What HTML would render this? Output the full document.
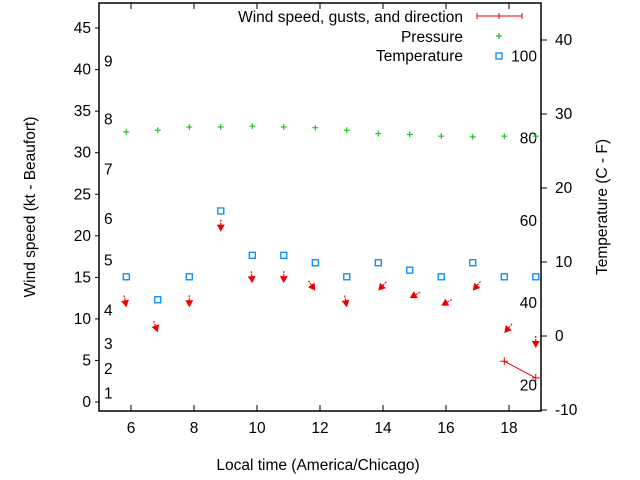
<!DOCTYPE html>
<html><head><meta charset="utf-8"><style>
body{margin:0;background:#fff}
svg{display:block;font-family:"Liberation Sans",sans-serif;font-size:15.5px}
</style></head><body>
<svg id="c" width="640" height="480" xmlns="http://www.w3.org/2000/svg">
<g id="axes"></g>
<g id="marks"></g>
<text x="35" y="207" transform="rotate(-90 35 207)" text-anchor="middle">Wind speed (kt - Beaufort)</text>
<text x="607" y="207" transform="rotate(-90 607 207)" text-anchor="middle">Temperature (C - F)</text>
<text x="318" y="470" text-anchor="middle">Local time (America/Chicago)</text>
<g>
<text x="463" y="22" text-anchor="end">Wind speed, gusts, and direction</text>
<path d="M477 16H522M477 13V19M522 13V19M499 13V19" stroke="#e00" stroke-width="1"/>
<text x="463" y="42" text-anchor="end">Pressure</text>
<path d="M496 36H502M499 33V39" stroke="#0a0"/>
<text x="463" y="61" text-anchor="end">Temperature</text>
<rect x="496" y="53" width="6" height="6" fill="none" stroke="#08f" stroke-width="1.3"/>
</g>
</svg>
<script>
const hours=[5.85,6.85,7.85,8.85,9.85,10.85,11.85,12.85,13.85,14.85,15.85,16.85,17.85,18.85];
const windSpeed=[11.4,8.4,11.4,20.5,14.3,14.3,13.4,11.4,13.4,12.5,11.6,13.4,8.3,6.5];
const windDir=[350,340,0,0,355,0,325,350,42,60,60,40,40,0];
const gustHours=[17.85,18.85];
const gustSpeed=[4.9,2.9];
const pressure=[32.5,32.7,33.1,33.1,33.2,33.1,33.0,32.7,32.3,32.2,32.0,31.9,32.0,32.0];
const tempC=[8.0,4.9,8.0,16.9,10.9,10.9,9.9,8.0,9.9,8.9,8.0,9.9,8.0,8.0];
const xTicks=[6,8,10,12,14,16,18];
const yTicks=[0,5,10,15,20,25,30,35,40,45];
const y2Ticks=[-10,0,10,20,30,40];
const beaufortLabels=["1","2","3","4","5","6","7","8","9"];
const beaufortKt=[1,4,7,11,17,22,28,34,41];
const fLabels=["20","40","60","80","100"];
const fVals=[20,40,60,80,100];
const L=99,R=541,T=3,B=411;
const X=h=>99.5+(h-5)*31.5;
const Y=v=>402-v*8.31;
const Y2=c=>336-c*7.4;
const NS="http://www.w3.org/2000/svg";
function mk(p,t,a){const e=document.createElementNS(NS,t);for(const k in a)e.setAttribute(k,a[k]);p.appendChild(e);return e;}
const ax=document.getElementById('axes'),mg=document.getElementById('marks');
let e=mk(ax,'rect',{x:L,y:T,width:R-L,height:B-T,fill:'none',stroke:'#000','stroke-width':1.5});


xTicks.forEach(h=>{const x=X(h);
 e=mk(ax,'path',{d:`M${x} ${B}v-6M${x} ${T}v6`,stroke:'#000'});
 
 
 e=mk(ax,'text',{x:x,y:B+22,'text-anchor':'middle'});e.textContent=h;
 
 });
yTicks.forEach(v=>{const y=Y(v);
 e=mk(ax,'path',{d:`M${L-4} ${y}h4`,stroke:'#000'});
 
 
 e=mk(ax,'text',{x:L-8,y:y+5,'text-anchor':'end'});e.textContent=v;
 
 });
y2Ticks.forEach(v=>{const y=Y2(v);
 e=mk(ax,'path',{d:`M${R} ${y}h6`,stroke:'#000'});
 
 
 e=mk(ax,'text',{x:R+14,y:y+5});e.textContent=v;
 
 });
beaufortLabels.forEach((s,i)=>{
 e=mk(ax,'text',{x:104,y:Y(beaufortKt[i])+5});e.textContent=s;
 
 });
fLabels.forEach((s,i)=>{const c=(fVals[i]-32)*5/9;
 e=mk(ax,'text',{x:537,y:Y2(c)+5,'text-anchor':'end'});e.textContent=s;
 
 });
pressure.forEach((p,i)=>{const x=X(hours[i]),y=Y(p);
 e=mk(mg,'path',{d:`M${x-3} ${y}h6M${x} ${y-3}v6`,stroke:'#0b0'});
 
 });
tempC.forEach((c,i)=>{const x=X(hours[i]),y=Y2(c);
 e=mk(mg,'rect',{x:x-3,y:y-3,width:6,height:6,fill:'none',stroke:'#08f','stroke-width':1.3});
 
 });
windSpeed.forEach((s,i)=>{const hx=X(hours[i]),hy=Y(s),th=windDir[i]*Math.PI/180;
 const ux=-Math.sin(th),uy=Math.cos(th),len=12;
 const tx=hx-ux*len,ty=hy-uy*len;const px=-uy,py=ux;
 const bx=hx-ux*7,by=hy-uy*7;
 const g=mk(mg,'g',{});
 
 
 mk(g,'line',{x1:tx,y1:ty,x2:bx,y2:by,stroke:'#e00','stroke-width':1.2,'stroke-dasharray':'2 1'});
 mk(g,'path',{d:`M${hx} ${hy}L${bx+px*4} ${by+py*4}L${bx-px*4} ${by-py*4}Z`,fill:'#e00'});});
e=mk(mg,'path',{d:`M${X(gustHours[0])} ${Y(gustSpeed[0])}L${X(gustHours[1])} ${Y(gustSpeed[1])}`,stroke:'#e00'});


gustHours.forEach((h,i)=>{const x=X(h),y=Y(gustSpeed[i]);
 e=mk(mg,'path',{d:`M${x-4} ${y}h8M${x} ${y-4}v8`,stroke:'#e00'});
 
 });
</script>
</body></html>
